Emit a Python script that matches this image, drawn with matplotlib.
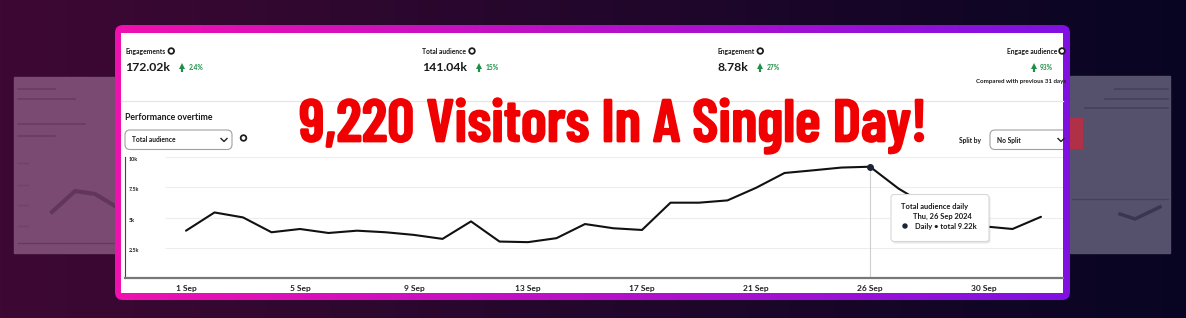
import numpy as np
import matplotlib
matplotlib.use("Agg")
import matplotlib.pyplot as plt
import matplotlib.patheffects as pe
from matplotlib import font_manager
from matplotlib.font_manager import FontProperties
from matplotlib.patches import FancyBboxPatch, Rectangle, Circle

# ---- data ----
days = list(range(31))
audience_k = [3.92, 5.43, 5.02, 3.79, 4.06, 3.73, 3.92, 3.79, 3.57, 3.24,
              4.69, 3.02, 2.97, 3.30, 4.47, 4.12, 3.98, 6.24, 6.24, 6.43,
              7.47, 8.70, 8.92, 9.15, 9.22, 7.41, 6.00, 4.80, 4.28, 4.06, 5.07]
peak_day = 24
tick_days = [0, 4, 8, 12, 16, 20, 24, 28]
tick_labels = ["1 Sep", "5 Sep", "9 Sep", "13 Sep", "17 Sep", "21 Sep", "26 Sep", "30 Sep"]
y_ticks = [2.5, 5, 7.5, 10]
y_labels = ["2.5k", "5k", "7.5k", "10k"]

metric_names = ["Engagements", "Total audience", "Engagement"]
metric_values = ["172.02k", "141.04k", "8.78k"]
metric_changes = ["2.4%", "15%", "27%"]

title = "9,220 Visitors In A Single Day!"

W, H = 1186, 318
avail = {f.name for f in font_manager.fontManager.ttflist}
ui = "Lato" if "Lato" in avail else "DejaVu Sans"
dark = "#1a1a1a"
green = "#1f8f47"


def title_candidates():
    props = []
    for f in font_manager.fontManager.ttflist:
        fn = f.fname.lower()
        if "mono" in fn or "serif" in fn or "mono" in f.name.lower():
            continue
        if f.style != "normal" or "italic" in fn or "oblique" in fn:
            continue
        st = f.stretch
        cond = st < 500 if isinstance(st, int) else st in (
            "condensed", "semi-condensed", "extra-condensed", "ultra-condensed")
        if cond or "narrow" in fn or "condensed" in fn:
            wt = f.weight if isinstance(f.weight, int) else {"bold": 700, "heavy": 800,
                                                             "black": 900}.get(f.weight, 400)
            if wt >= 600 or "bold" in fn:
                props.append(FontProperties(fname=f.fname))
    for fam in ["Lato", "Roboto", "Liberation Sans", "DejaVu Sans"]:
        if fam in avail:
            props.append(FontProperties(family=fam, weight="bold"))
    return props


fig = plt.figure(figsize=(W / 100, H / 100), dpi=100)

# background layer, pixel coordinates
bg = fig.add_axes([0, 0, 1, 1], zorder=0)
bg.set_xlim(0, W)
bg.set_ylim(H, 0)
bg.axis("off")

t = np.linspace(0, 1, 256)[:, None]
c_left = np.array([62, 8, 52]) / 255
c_right = np.array([8, 5, 35]) / 255
grad = c_left * (1 - t) + c_right * t
bg.imshow(grad[None, :, :], extent=[0, W, H, 0], aspect="auto", interpolation="bilinear", zorder=0)

# faded side panels
bg.add_patch(Rectangle((14, 77), 101, 176, color="#7a4a72", zorder=1))
for yy, x1 in [(89, 55), (99, 75), (124, 85), (136, 55)]:
    bg.plot([18, x1], [yy, yy], color="#5e3358", lw=1.2, alpha=0.6, zorder=2)
for yy in [163, 185, 205, 226]:
    bg.plot([18, 28], [yy, yy], color="#6a3c62", lw=1, alpha=0.5, zorder=2)
bg.plot([18, 115], [243, 243], color="#5e3358", lw=1, alpha=0.7, zorder=2)
bg.plot([52, 75, 95, 115], [212, 191, 194, 206], color="#4c2446", lw=3, alpha=0.5, zorder=2)

bg.add_patch(Rectangle((1070, 76), 100, 177, color="#55506c", zorder=1))
bg.add_patch(Rectangle((1070, 118), 12, 30, color="#b03048", zorder=2))
for yy, x0 in [(89, 1115), (99, 1105), (108, 1085)]:
    bg.plot([x0, 1168], [yy, yy], color="#3e3a52", lw=1.2, alpha=0.7, zorder=2)
bg.plot([1072, 1168], [199, 199], color="#46415a", lw=1, zorder=2)
bg.plot([1120, 1135, 1160], [214, 219, 207], color="#3a3550", lw=2.5, zorder=2)

# card with gradient border
card = FancyBboxPatch((115, 25), 955, 275, boxstyle="round,pad=0,rounding_size=8",
                      fc="none", ec="none", zorder=3)
bg.add_patch(card)
c_pink = np.array([240, 16, 176]) / 255
c_purple = np.array([128, 16, 226]) / 255
bgrad = c_pink * (1 - t) + c_purple * t
im = bg.imshow(bgrad[None, :, :], extent=[115, 1070, 300, 25], aspect="auto",
               interpolation="bilinear", zorder=3)
im.set_clip_path(card)
bg.set_xlim(0, W)
bg.set_ylim(H, 0)

inner = Rectangle((121, 32.5), 942, 260.5, fc="white", ec="none", zorder=4)
bg.add_patch(inner)


def info_icon(x, y):
    bg.add_patch(Circle((x, y), 3.0, color="#1b1b1b", zorder=6))
    bg.add_patch(Circle((x, y), 1.2, color="white", zorder=7))


def chevron(x, y):
    bg.plot([x - 3, x, x + 3], [y - 1.5, y + 1.5, y - 1.5], color="#222", lw=1.0,
            zorder=7, clip_path=inner)


def up_arrow(x, y):
    bg.plot([x, x], [y - 1, y + 4], color=green, lw=1.6, zorder=6, solid_capstyle="butt")
    bg.plot(x, y - 2, marker="^", ms=4.2, color=green, zorder=6, mew=0)


# metric header
for name, value, change, x in zip(metric_names, metric_values, metric_changes, [125, 422, 717]):
    tx = bg.text(x, 51.5, name, fontsize=4.9, fontweight="bold", family=ui, color=dark,
                 va="center", ha="left", zorder=6)
    fig.canvas.draw()
    ext = tx.get_window_extent()
    info_icon(ext.x1 + 6, 51)
    tv = bg.text(x, 67.5, value, fontsize=8.8, fontweight="bold", family=ui, color=dark,
                 va="center", ha="left", zorder=6)
    fig.canvas.draw()
    ext = tv.get_window_extent()
    up_arrow(ext.x1 + 12, 68)
    bg.text(ext.x1 + 19, 67.5, change, fontsize=4.8, family=ui, fontweight="bold",
            color=green, va="center", ha="left", zorder=6)

bg.text(1057, 51.5, "Engage audience", fontsize=4.9, fontweight="bold", family=ui, color=dark,
        va="center", ha="right", zorder=6)
info_icon(1062, 51)
up_arrow(1034, 68)
bg.text(1040, 67.5, "93%", fontsize=4.8, fontweight="bold", family=ui,
        color=green, va="center", ha="left", zorder=6)
tc = bg.text(976, 81.5, "Compared with previous 31 days", fontsize=4.4, fontweight="bold",
             family=ui, color=dark, va="center", ha="left", zorder=6)
tc.set_clip_path(inner)

bg.plot([121, 1063], [101, 101], color="#e6e6e6", lw=0.9, zorder=5)

bg.text(125, 117, "Performance overtime", fontsize=6.3, fontweight="bold", family=ui,
        color=dark, va="center", ha="left", zorder=6)
bg.add_patch(FancyBboxPatch((125, 130), 107, 19.5, boxstyle="round,pad=0,rounding_size=5",
                            fc="white", ec="#a0a0a0", lw=0.8, zorder=5))
bg.text(132, 140, "Total audience", fontsize=4.8, fontweight="bold", family=ui,
        color=dark, va="center", ha="left", zorder=6)
chevron(224, 140)
info_icon(243.5, 138)

bg.text(959, 140, "Split by", fontsize=4.8, fontweight="bold", family=ui,
        color=dark, va="center", ha="left", zorder=6)
nb = FancyBboxPatch((990, 130), 80, 19.5, boxstyle="round,pad=0,rounding_size=5",
                    fc="white", ec="#a0a0a0", lw=0.8, zorder=5)
bg.add_patch(nb)
nb.set_clip_path(inner)
bg.text(997, 140, "No Split", fontsize=4.8, fontweight="bold", family=ui,
        color=dark, va="center", ha="left", zorder=6)
chevron(1061, 140)

# ---- chart ----
x_first, px_day = 186, 28.5
ax_left, ax_right, ax_top, ax_bottom = 125, 1063, 157.3, 278
ax = fig.add_axes([ax_left / W, (H - ax_bottom) / H, (ax_right - ax_left) / W,
                   (ax_bottom - ax_top) / H], zorder=1)
ax.patch.set_alpha(0)
ax.set_xlim(-(x_first - ax_left) / px_day, (ax_right - x_first) / px_day)
ax.set_ylim(0, 10)
for s in ["top", "right"]:
    ax.spines[s].set_visible(False)
ax.spines["left"].set_color("#444444")
ax.spines["left"].set_linewidth(0.8)
ax.spines["bottom"].set_color("#777777")
ax.spines["bottom"].set_linewidth(1.6)

grid_x0 = -(x_first - 165) / px_day
ax.hlines(y_ticks, grid_x0, ax.get_xlim()[1], color="#ededed", lw=0.8, zorder=1)
ax.vlines(peak_day, 0, audience_k[peak_day], color="#cfcfcf", lw=0.8, zorder=2)
ax.plot(days, audience_k, color="#111111", lw=1.5, zorder=3, solid_capstyle="round")
ax.plot(peak_day, audience_k[peak_day], "o", ms=4, color="#1c2333", zorder=4)

ax.set_xticks(tick_days, tick_labels)
ax.tick_params(axis="x", length=0, pad=5, labelsize=6, labelcolor="#222222")
for lbl in ax.get_xticklabels():
    lbl.set_fontweight("bold")
    lbl.set_family(ui)
ax.set_yticks(y_ticks, y_labels)
ax.tick_params(axis="y", length=0, pad=-2.5, labelsize=3.9, labelcolor="#222222")
for lbl in ax.get_yticklabels():
    lbl.set_ha("left")
    lbl.set_va("top")
    lbl.set_fontweight("bold")
    lbl.set_family(ui)

# ---- foreground: tooltip and headline ----
fg = fig.add_axes([0, 0, 1, 1], zorder=2)
fg.set_xlim(0, W)
fg.set_ylim(H, 0)
fg.axis("off")
fg.patch.set_alpha(0)

fg.add_patch(FancyBboxPatch((892.5, 196), 98, 47.5, boxstyle="round,pad=0,rounding_size=3",
                            fc="#00000018", ec="none", zorder=1))
fg.add_patch(FancyBboxPatch((891, 194.5), 98, 47, boxstyle="round,pad=0,rounding_size=3",
                            fc="white", ec="#d8d8d8", lw=0.8, zorder=2))
fg.text(901, 207, "Total audience daily", fontsize=5.4, fontweight="bold", family=ui,
        color=dark, va="center", ha="left", zorder=3)
fg.text(913, 216.5, "Thu, 26 Sep 2024", fontsize=5.4, fontweight="bold", family=ui,
        color=dark, va="center", ha="left", zorder=3)
fg.add_patch(Circle((905, 226), 2.0, color="#1c2333", zorder=3))
fg.text(915, 226, "Daily • total %.2fk" % audience_k[peak_day], fontsize=5.4, fontweight="bold",
        family=ui, color=dark, va="center", ha="left", zorder=3)

# headline: pick the bold sans face whose width-fitted size is closest to the target height
fig.canvas.draw()
renderer = fig.canvas.get_renderer()
best, best_size = None, None
for p in title_candidates():
    p = p.copy()
    p.set_size(40)
    probe = fg.text(0, 0, title, fontproperties=p)
    try:
        w = probe.get_window_extent(renderer).width
    except Exception:
        w = None
    probe.remove()
    if not w:
        continue
    s = 40 * 628 / w
    if best is None or abs(min(s, 46) - 44) < abs(min(best_size, 46) - 44):
        best, best_size = p, s
best.set_size(min(46, best_size))
fg.text(613, 141.5, title, fontproperties=best, color="#f00000",
        ha="center", va="baseline", zorder=5,
        path_effects=[pe.Stroke(linewidth=1.3, foreground="#f00000"), pe.Normal()])

fig.savefig("out.png", dpi=100)
